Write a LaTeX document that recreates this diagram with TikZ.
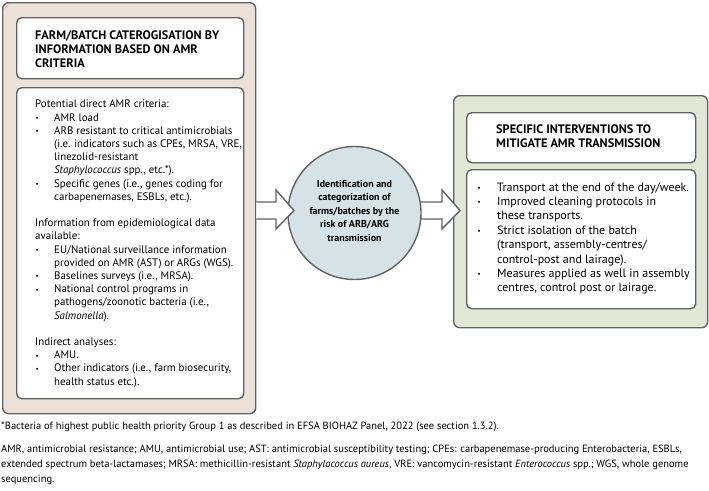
\documentclass[tikz,border=0pt]{standalone}
\usepackage{fontspec}
\usepackage{graphicx}
\setmainfont{PT Sans}
\usetikzlibrary{calc}
\definecolor{bordergray}{RGB}{98,98,98}
\definecolor{beige}{RGB}{236,225,217}
\definecolor{sage}{RGB}{225,230,213}
\definecolor{lightblue}{RGB}{213,227,232}
\newcommand{\bul}{{\fontsize{7}{7}\selectfont\raisebox{0.6pt}{•}}}
\newcommand{\LB}{\makebox[19pt][l]{\hspace{0.5pt}\bul}}
\newcommand{\RB}{\makebox[20pt][l]{\hspace{0.5pt}\bul}}
\newcommand{\hd}[1]{\multicolumn{2}{@{}l@{}}{#1}}
\begin{document}
\begin{tikzpicture}[x=1pt,y=-1pt,
  outerbox/.style={draw=bordergray, line width=1.4pt, rounded corners=6pt, inner sep=0pt, anchor=north west},
  innerbox/.style={draw=bordergray, fill=white, line width=1.4pt, rounded corners=5pt, inner sep=0pt, anchor=north west},
  blockarrow/.style={draw=bordergray, fill=white, line width=1.4pt, line join=miter},
  circ/.style={circle, draw=bordergray, fill=lightblue, line width=1.4pt, inner sep=0pt, minimum size=133pt},
  txt/.style={inner sep=0pt, anchor=north west, align=left},
  titlefont/.style={font=\fontsize{12.3}{14}\selectfont\bfseries},
  lbodyfont/.style={font=\fontsize{10.9}{13.2}\selectfont},
  rbodyfont/.style={font=\fontsize{12}{14.4}\selectfont},
  notefont/.style={font=\fontsize{10.5}{15}\selectfont}]
\useasboundingbox (0,0) rectangle (709,490);

% left column
\node[outerbox, fill=beige, minimum width=253pt, minimum height=411pt] (lo) at (2,2) {};
\node[innerbox, minimum width=227pt, minimum height=61pt] (lt) at (16,17) {};
\node[innerbox, minimum width=227pt, minimum height=311pt] (lb) at (16,87) {};
\node[txt, titlefont] (lttext) at (35,29.5) {\begin{tabular}[t]{@{}l@{}}
FARM/BATCH CATEROGISATION BY\\
INFORMATION BASED ON AMR\\
CRITERIA
\end{tabular}};
\node[txt, lbodyfont] (lbtext) at (35,98.5) {\begin{tabular}[t]{@{}l@{}l@{}}
\hd{Potential direct AMR criteria:}\\
\LB & AMR load\\
\LB & ARB resistant to critical antimicrobials\\
 & (i.e. indicators such as CPEs, MRSA, VRE,\\
 & linezolid-resistant\\
 & \textit{Staphylococcus} spp., etc.*).\\
\LB & Specific genes (i.e., genes coding for\\
 & carbapenemases, ESBLs, etc.).\\
 & \\
\hd{Information from epidemiological data}\\
\hd{available:}\\
\LB & EU/National surveillance information\\
 & provided on AMR (AST) or ARGs (WGS).\\
\LB & Baselines surveys (i.e., MRSA).\\
\LB & National control programs in\\
 & pathogens/zoonotic bacteria (i.e.,\\
 & \textit{Salmonella}).\\
 & \\
\hd{Indirect analyses:}\\
\LB & AMU.\\
\LB & Other indicators (i.e., farm biosecurity,\\
 & health status etc.).
\end{tabular}};

% right column
\node[outerbox, fill=sage, minimum width=254pt, minimum height=232pt] (ro) at (453,95) {};
\node[innerbox, minimum width=229pt, minimum height=50pt] (rt) at (466,112) {};
\node[innerbox, minimum width=229pt, minimum height=139pt] (rb) at (466,169) {};
\node[txt, titlefont] (rttext) at (496,123.5) {\begin{tabular}[t]{@{}l@{}}
SPECIFIC INTERVENTIONS TO\\
MITIGATE AMR TRANSMISSION
\end{tabular}};
\node[txt, rbodyfont] (rbtext) at (477,180.9) {\begin{tabular}[t]{@{}l@{}l@{}}
\RB & Transport at the end of the day/week.\\
\RB & Improved cleaning protocols in\\
 & these transports.\\
\RB & Strict isolation of the batch\\
 & (transport, assembly-centres/\\
 & control-post and lairage).\\
\RB & Measures applied as well in assembly\\
 & centres, control post or lairage.
\end{tabular}};

% circle and arrows
\coordinate (a2s) at (400,210.5);
\coordinate (a2t) at (460,210.5);
\draw[blockarrow] ($(a2s)+(0,-8.5)$) -- ($(a2t)+(-18,-8.5)$) -- ($(a2t)+(-18,-20.5)$) -- (a2t) -- ($(a2t)+(-18,18.5)$) -- ($(a2t)+(-18,8.5)$) -- ($(a2s)+(0,8.5)$);
\node[circ] (c) at (354.5,213) {};
\node[inner sep=0pt, align=center, font=\fontsize{10}{13.5}\selectfont\bfseries] (ctext) at ($(c.center)+(0,-2)$) {Identification and\\
categorization of\\
farms/batches by the\\
risk of ARB/ARG\\
transmission};
\coordinate (a1s) at (lo.east |- a2s);
\coordinate (a1t) at (294,210.5);
\draw[blockarrow] ($(a1s)+(0,-8.5)$) -- ($(a1t)+(-18,-8.5)$) -- ($(a1t)+(-18,-20.5)$) -- (a1t) -- ($(a1t)+(-18,18.5)$) -- ($(a1t)+(-18,8.5)$) -- ($(a1s)+(0,8.5)$);

% notes
\node[txt, notefont] (note1) at (1,421.5) {*Bacteria of highest public health priority Group 1 as described in EFSA BIOHAZ Panel, 2022 (see section 1.3.2).};
\node[txt, notefont] (note2) at (1,442.1) {\begin{tabular}[t]{@{}l@{}}
AMR, antimicrobial resistance; AMU, antimicrobial use; AST: antimicrobial susceptibility testing; CPEs: carbapenemase-producing Enterobacteria, ESBLs,\\
extended spectrum beta-lactamases; MRSA: methicillin-resistant \textit{Staphylococcus aureus}, VRE: vancomycin-resistant \textit{Enterococcus} spp.; WGS, whole genome\\
sequencing.
\end{tabular}};
\end{tikzpicture}
\end{document}
